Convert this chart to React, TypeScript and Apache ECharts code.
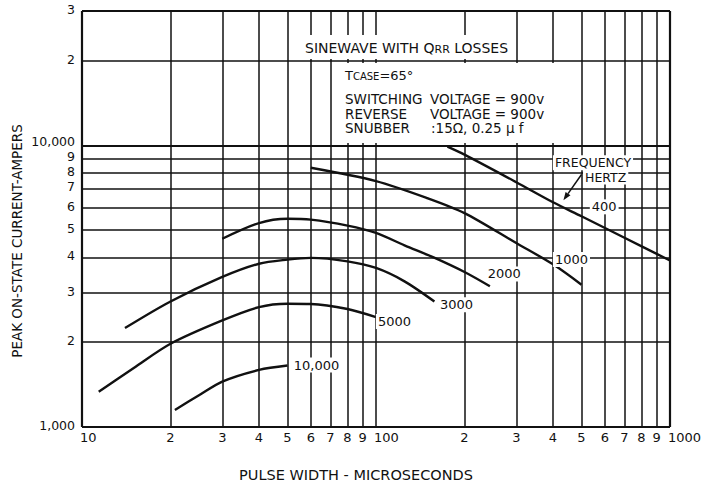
import React, { useEffect, useRef } from "react";
import * as echarts from "echarts";

// Grid values and tick labels
const xGridValues = [10, 20, 30, 40, 50, 60, 70, 80, 90, 100, 200, 300, 400, 500, 600, 700, 800, 900, 1000];
const xTickLabels = ["10", "2", "3", "4", "5", "6", "7", "8", "9", "100", "2", "3", "4", "5", "6", "7", "8", "9", "1000"];
const yGridValues = [1000, 2000, 3000, 4000, 5000, 6000, 7000, 8000, 9000, 10000, 20000, 30000];
const yTickLabels = ["1,000", "2", "3", "4", "5", "6", "7", "8", "9", "10,000", "2", "3"];

// Curves: [pulse width (µs), peak current (A)]
const freq400 = [[175, 9900], [200, 9270], [300, 7400], [400, 6280], [500, 5600], [700, 4700], [1000, 3900]];
const freq1000 = [[60, 8330], [100, 7470], [150, 6490], [200, 5750], [300, 4500], [400, 3780], [500, 3200]];
const freq2000 = [[30, 4660], [40, 5300], [50, 5490], [60, 5450], [80, 5190], [100, 4890], [125, 4415], [157, 4000], [200, 3550], [244, 3160]];
const freq3000 = [[14, 2245], [20, 2790], [30, 3410], [40, 3800], [50, 3930], [60, 3985], [80, 3875], [100, 3670], [125, 3290], [158, 2790]];
const freq5000 = [[11.4, 1335], [15, 1620], [20, 1975], [30, 2390], [40, 2665], [50, 2740], [60, 2735], [80, 2625], [100, 2456]];
const freq10000 = [[20.7, 1150], [25, 1296], [30, 1450], [40, 1595], [50, 1653]];

const curves = [freq400, freq1000, freq2000, freq3000, freq5000, freq10000];
const curveNames = ["400", "1000", "2000", "3000", "5000", "10,000"];

// Curve label anchors (left edge, vertical middle) in data space
const curveLabelTexts = ["10,000", "5000", "3000", "2000", "1000", "400", "FREQUENCY", "HERTZ"];
const curveLabelAnchors = [[52.5, 1660], [101.5, 2370], [165, 2718], [240, 3495], [406, 3930], [542, 6050], [406, 8677], [514, 7715]];
const arrowFrom = [500, 7880];
const arrowTo = [434, 6390];

const FONT = "DejaVu Sans";
const INK = "#111";

export default function App() {
  const ref = useRef<HTMLDivElement>(null);

  useEffect(() => {
    const el = ref.current;
    if (!el) return;
    const chart = echarts.init(el, null, { renderer: "svg" });

    const hiddenAxis = {
      axisLine: { show: false },
      axisTick: { show: false },
      axisLabel: { show: false },
      splitLine: { show: false },
      minorTick: { show: false },
      minorSplitLine: { show: false },
    };

    const gridMarkData: any[] = [
      ...xGridValues.map((v) => ({
        xAxis: v,
        lineStyle: { width: v === 10 || v === 1000 ? 2.2 : 1.5 },
      })),
      ...yGridValues.map((v) => ({
        yAxis: v,
        lineStyle: { width: v === 1000 || v === 30000 ? 2.2 : v === 10000 ? 2 : 1.5 },
      })),
    ];

    chart.setOption({
      animation: false,
      backgroundColor: "#fff",
      grid: { left: 82, right: 32, top: 11, bottom: 61, containLabel: false, outerBoundsMode: "none" },
      xAxis: { type: "log", logBase: 10, min: 10, max: 1000, ...hiddenAxis },
      yAxis: { type: "log", logBase: 10, min: 1000, max: 30000, ...hiddenAxis },
      series: [
        {
          type: "line",
          name: "grid",
          data: [[10, 1000]],
          symbol: "none",
          silent: true,
          clip: false,
          lineStyle: { width: 0 },
          markLine: {
            silent: true,
            symbol: ["none", "none"],
            label: { show: false },
            emphasis: { disabled: true },
            lineStyle: { color: INK, type: "solid", width: 1.5 },
            data: gridMarkData,
          },
        },
        ...curves.map((c, i) => ({
          type: "line",
          name: curveNames[i],
          data: c,
          smooth: 0.3,
          symbol: "none",
          silent: true,
          z: 3,
          lineStyle: { color: INK, width: 2.4 },
        })),
      ],
    });

    const px = (p: number[]) => chart.convertToPixel({ gridIndex: 0 }, p) as number[];

    const text = (t: string, x: number, y: number, extra: any = {}) => {
      const align = extra.align || "left";
      const valign = extra.verticalAlign || "middle";
      return {
        type: "text",
        z: 60,
        x,
        y,
        rotation: extra.rotation || 0,
        style: {
          text: t,
          fill: INK,
          fontFamily: FONT,
          fontSize: extra.fontSize || 13,
          fontWeight: extra.fontWeight || "normal",
          align,
          textAlign: align,
          verticalAlign: valign,
          textVerticalAlign: valign,
          backgroundColor: extra.backgroundColor,
          padding: extra.padding,
          rich: extra.rich,
        },
      };
    };

    const elements: any[] = [];
    const [gx0, gy0] = px([10, 1000]);

    // white panels behind the annotation block
    elements.push({ type: "rect", z: 50, shape: { x: 300, y: 35, width: 214, height: 24 }, style: { fill: "#fff" } });
    elements.push({ type: "rect", z: 50, shape: { x: 336, y: 63, width: 221, height: 80 }, style: { fill: "#fff" } });

    // y tick labels (crowded ones nudged apart)
    const yNudge: Record<number, number> = { 10000: -4, 9000: -1.5, 8000: -1, 7000: -2 };
    yGridValues.forEach((v, i) => {
      const [, y] = px([10, v]);
      const dy = yNudge[v] !== undefined ? yNudge[v] : -1.5;
      elements.push(text(yTickLabels[i], gx0 - 7, y + dy, { align: "right", fontSize: 12.5 }));
    });
    // x tick labels
    xGridValues.forEach((v, i) => {
      const [x] = px([v, 1000]);
      const decade = v === 10 || v === 100 || v === 1000;
      elements.push(text(xTickLabels[i], decade ? x - 2 : x, gy0 + 10, { align: decade ? "left" : "center" }));
    });

    // axis titles
    elements.push(text("PEAK ON-STATE CURRENT-AMPERS", 17, 241, { align: "center", rotation: Math.PI / 2, fontSize: 13.5 }));
    elements.push(text("PULSE WIDTH - MICROSECONDS", 356, 475, { align: "center", fontSize: 14.5 }));

    // annotation block
    const small = { s: { fontSize: 11, fontFamily: FONT, fill: INK, verticalAlign: "bottom" } };
    const small2 = { s: { fontSize: 10, fontFamily: FONT, fill: INK, verticalAlign: "bottom" } };
    elements.push(text("SINEWAVE WITH Q{s|RR} LOSSES", 305, 48, { rich: small, fontSize: 14 }));
    elements.push(text("T{s|CASE}=65°", 345, 75, { rich: small2 }));
    elements.push(text("SWITCHING", 345, 99, { fontSize: 13.5 }));
    elements.push(text("VOLTAGE = 900v", 430, 99, { fontSize: 13.5 }));
    elements.push(text("REVERSE", 345, 113.5, { fontSize: 13.5 }));
    elements.push(text("VOLTAGE = 900v", 430, 113.5, { fontSize: 13.5 }));
    elements.push(text("SNUBBER", 345, 128, { fontSize: 13.5 }));
    elements.push(text(":15Ω, 0.25 µ f", 431, 128, { fontSize: 13.5 }));

    // curve labels
    curveLabelTexts.forEach((t, i) => {
      const [x, y] = px(curveLabelAnchors[i]);
      elements.push(
        text(t, x - 2, y, {
          backgroundColor: "#fff",
          padding: [1, 2, 1, 2],
          fontSize: t === "FREQUENCY" || t === "HERTZ" ? 12.5 : 13,
        })
      );
    });

    // arrow
    const a = px(arrowFrom);
    const b = px(arrowTo);
    const dx = b[0] - a[0];
    const dy = b[1] - a[1];
    const len = Math.sqrt(dx * dx + dy * dy);
    const ux = dx / len;
    const uy = dy / len;
    const head = 8;
    const hw = 3;
    const base = [b[0] - ux * head, b[1] - uy * head];
    elements.push({
      type: "line",
      z: 61,
      shape: { x1: a[0], y1: a[1], x2: base[0], y2: base[1] },
      style: { stroke: INK, lineWidth: 1.5 },
    });
    elements.push({
      type: "polygon",
      z: 61,
      shape: {
        points: [
          [b[0], b[1]],
          [base[0] - uy * hw, base[1] + ux * hw],
          [base[0] + uy * hw, base[1] - ux * hw],
        ],
      },
      style: { fill: INK },
    });

    chart.setOption({ graphic: elements });

    return () => {
      chart.dispose();
    };
  }, []);

  return (
    <div
      ref={ref}
      style={{ position: "absolute", left: 0, top: 0, width: 702, height: 488, background: "#fff" }}
    />
  );
}
